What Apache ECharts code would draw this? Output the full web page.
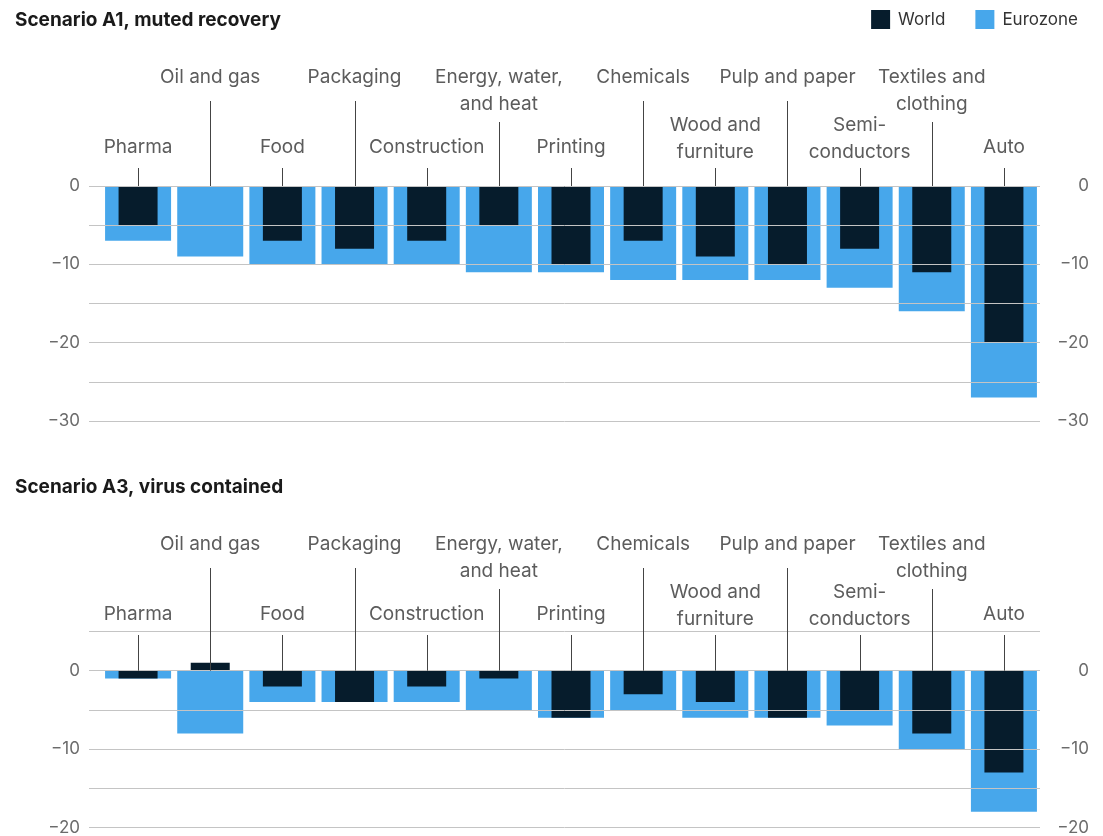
<!DOCTYPE html>
<html>
<head>
    <meta charset="utf-8">
    <title>Scenarios</title>
    <style>
        html, body { margin: 0; padding: 0; background: #fff; }
        #charts { width: 1103px; height: 836px; }
    </style>
</head>
<body>
<div id="charts"></div>
<script src="https://cdn.jsdelivr.net/npm/echarts@6/dist/echarts.min.js"></script>
<script>
    // categories and values
    var categories = ['Pharma', 'Oil and gas', 'Food', 'Packaging', 'Construction', 'Energy, water,\nand heat',
        'Printing', 'Chemicals', 'Wood and\nfurniture', 'Pulp and paper', 'Semi-\nconductors', 'Textiles and\nclothing', 'Auto'];
    var a1World = [-5, 0, -7, -8, -7, -5, -10, -7, -9, -10, -8, -11, -20];
    var a1Eurozone = [-7, -9, -10, -10, -10, -11, -11, -12, -12, -12, -13, -16, -27];
    var a3World = [-1, 1, -2, -4, -2, -1, -6, -3, -4, -6, -5, -8, -13];
    var a3Eurozone = [-1, -8, -4, -4, -4, -5, -6, -5, -6, -6, -7, -10, -18];
    var panelTitles = ['Scenario A1, muted recovery', 'Scenario A3, virus contained'];
    var a1Range = [-30, 0];
    var a3Range = [-20, 5];

    var WORLD = '#061c2c';
    var EURO = '#47a7eb';
    var FONT = 'Inter, "Noto Sans", sans-serif';

    var myChart = echarts.init(document.getElementById('charts'));

    function tickLabel(v) {
        if (v % 10 !== 0) return '';
        return v < 0 ? '\u2212' + (-v) : String(v);
    }

    // category labels with leader lines, placed relative to the panel top
    function labelSeries(xIdx, yIdx, panelTop) {
        return {
            type: 'custom',
            xAxisIndex: xIdx,
            yAxisIndex: yIdx,
            z: 10,
            silent: true,
            data: categories.map(function (c, i) { return [i, 0]; }),
            renderItem: function (params, api) {
                var i = api.value(0);
                var p = api.coord([i, 0]);
                var name = categories[i];
                var twoLine = name.indexOf('\n') >= 0;
                var high = i % 2 === 1;
                var lineTop, textY, vAlign;
                if (high) {
                    lineTop = panelTop + (twoLine ? 102 : 81);
                    textY = panelTop + 44;
                    vAlign = 'top';
                } else {
                    lineTop = panelTop + 148;
                    textY = panelTop + (twoLine ? 119 : 127.5);
                    vAlign = 'middle';
                }
                var x = Math.round(p[0]) + 0.5;
                return {
                    type: 'group',
                    children: [
                        {type: 'line', shape: {x1: x, y1: lineTop, x2: x, y2: p[1]}, style: {stroke: '#444', lineWidth: 1}},
                        {type: 'text', x: p[0], y: textY, style: {
                            text: name, fill: '#5c5c5c', fontSize: 19, fontFamily: FONT,
                            align: 'center', verticalAlign: vAlign, lineHeight: 27
                        }}
                    ]
                };
            }
        };
    }

    var grids = [
        {left: 89, right: 63, top: 186, height: 235},
        {left: 102, right: 63, top: 186, height: 235},
        {left: 89, right: 63, top: 631.5, height: 196},
        {left: 102, right: 63, top: 631.5, height: 196}
    ];

    var xAxes = [];
    [0, 1, 1, 2, 3, 3].forEach(function (g) {
        xAxes.push({type: 'category', gridIndex: g, data: categories, show: false, boundaryGap: true});
    });

    function lineAxes(g, range) {
        var base = {
            type: 'value', gridIndex: g, min: range[0], max: range[1], interval: 5, z: 5,
            axisLine: {show: false}, axisTick: {show: false},
            axisLabel: {formatter: tickLabel, color: '#6b6b6b', fontSize: 17, fontFamily: FONT}
        };
        var left = echarts.util.merge({position: 'left', splitLine: {show: true, lineStyle: {color: '#c4c4c4', width: 1}}}, base);
        left.axisLabel = echarts.util.extend({margin: 9}, base.axisLabel);
        var right = echarts.util.merge({position: 'right', splitLine: {show: false}}, base);
        right.axisLabel = echarts.util.extend({margin: 49, align: 'right'}, base.axisLabel);
        return [left, right];
    }
    function barAxis(g, range) {
        return {type: 'value', gridIndex: g, min: range[0], max: range[1], show: false, splitLine: {show: false}};
    }

    var yAxes = [].concat(
        lineAxes(0, a1Range),          // 0, 1
        [barAxis(1, a1Range)],         // 2
        lineAxes(2, a3Range),          // 3, 4
        [barAxis(3, a3Range)]          // 5
    );

    var titleStyle = {fontSize: 19, fontWeight: 'bold', color: '#1a1a1a', fontFamily: FONT};

    var option = {
        animation: false,
        textStyle: {fontFamily: FONT},
        title: [
            {text: panelTitles[0], left: 10, top: 6, textStyle: titleStyle},
            {text: panelTitles[1], left: 10, top: 473, textStyle: titleStyle}
        ],
        legend: {
            data: ['World', 'Eurozone'],
            right: 20, top: 5,
            icon: 'rect', itemWidth: 19, itemHeight: 19, itemGap: 30,
            selectedMode: false,
            textStyle: {fontSize: 17, color: '#333', fontFamily: FONT, padding: [0, 0, 0, 3]}
        },
        grid: grids,
        xAxis: xAxes,
        yAxis: yAxes,
        series: [
            {name: 'Eurozone', type: 'bar', xAxisIndex: 1, yAxisIndex: 2, barWidth: 66, itemStyle: {color: EURO}, data: a1Eurozone},
            {name: 'World', type: 'bar', xAxisIndex: 2, yAxisIndex: 2, barWidth: 39, itemStyle: {color: WORLD}, data: a1World},
            labelSeries(1, 2, 20),
            {name: 'Eurozone', type: 'bar', xAxisIndex: 4, yAxisIndex: 5, barWidth: 66, itemStyle: {color: EURO}, data: a3Eurozone},
            {name: 'World', type: 'bar', xAxisIndex: 5, yAxisIndex: 5, barWidth: 39, itemStyle: {color: WORLD}, data: a3World},
            labelSeries(4, 5, 487)
        ]
    };
    myChart.setOption(option);
</script>
</body>
</html>
